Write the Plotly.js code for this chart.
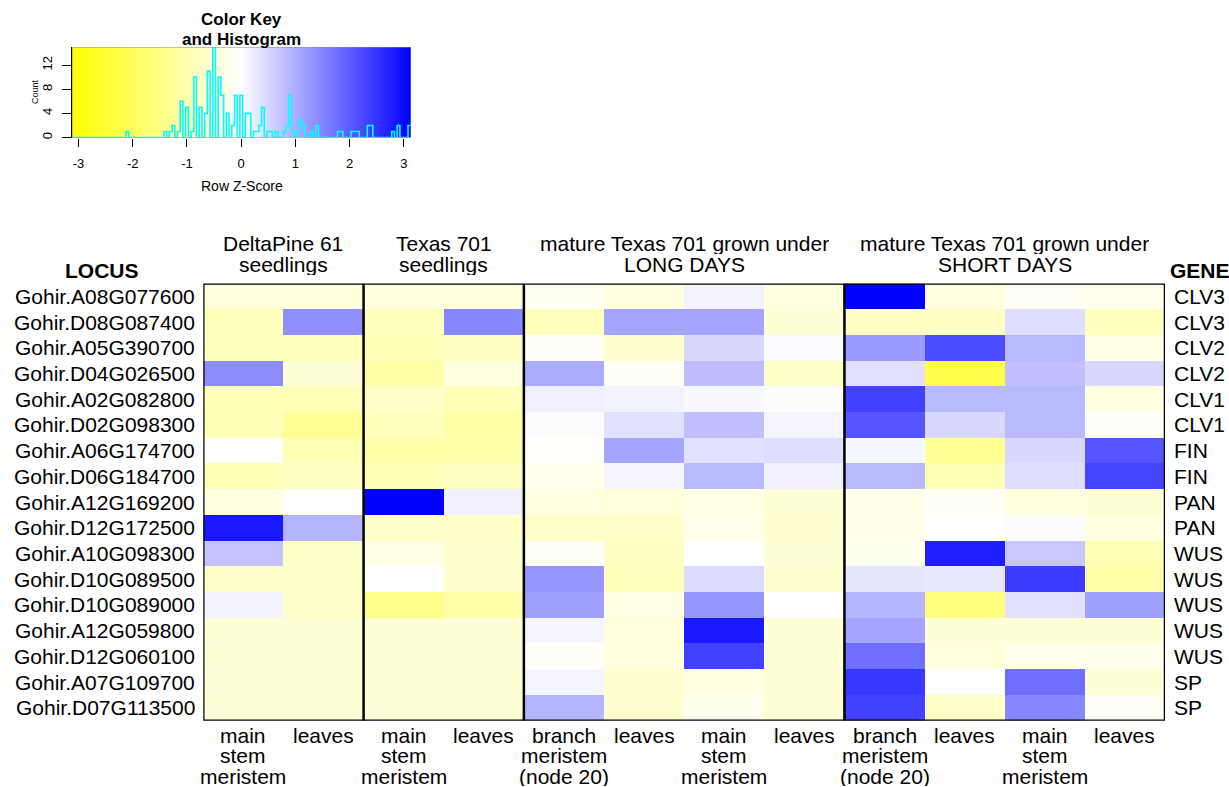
<!DOCTYPE html>
<html><head><meta charset="utf-8">
<script src="https://cdn.plot.ly/plotly-3.0.1.min.js"></script>
<style>html,body{margin:0;padding:0;background:#fff;}#chart{width:1229px;height:787px;}</style>
</head><body><div id="chart"></div>
<script>
// ---------------- data ----------------
const loci = ["Gohir.A08G077600","Gohir.D08G087400","Gohir.A05G390700","Gohir.D04G026500","Gohir.A02G082800","Gohir.D02G098300","Gohir.A06G174700","Gohir.D06G184700","Gohir.A12G169200","Gohir.D12G172500","Gohir.A10G098300","Gohir.D10G089500","Gohir.D10G089000","Gohir.A12G059800","Gohir.D12G060100","Gohir.A07G109700","Gohir.D07G113500"];
const genes = ["CLV3","CLV3","CLV2","CLV2","CLV1","CLV1","FIN","FIN","PAN","PAN","WUS","WUS","WUS","WUS","WUS","SP","SP"];
const sampleLabels = ["main\nstem\nmeristem","leaves","main\nstem\nmeristem","leaves","branch\nmeristem\n(node 20)","leaves","main\nstem\nmeristem","leaves","branch\nmeristem\n(node 20)","leaves","main\nstem\nmeristem","leaves"];
const groupLabels = ["DeltaPine 61\nseedlings","Texas 701\nseedlings","mature Texas 701 grown under\nLONG DAYS","mature Texas 701 grown under\nSHORT DAYS"];
const groupSizes = [2,2,4,4];
// row z-scores (rows = loci, columns = samples)
const zRows = [
 [-0.43,-0.43,-0.40,-0.40,-0.16,-0.38, 0.15,-0.38, 3.12,-0.38,-0.12,-0.25],
 [-0.80, 1.37,-0.80, 1.47,-0.80, 1.10, 1.10,-0.49,-0.73,-0.73, 0.40,-0.80],
 [-0.80,-0.80,-0.85,-0.73,-0.12,-0.60, 0.48, 0.06, 1.22, 2.20, 0.86,-0.30],
 [ 1.41,-0.49,-1.10,-0.37, 1.02,-0.12, 0.80,-0.67, 0.37,-2.20, 0.77, 0.49],
 [-0.85,-0.85,-0.67,-0.85, 0.18, 0.15, 0.09, 0.04, 2.33, 0.86, 0.86,-0.37],
 [-0.85,-1.28,-0.80,-1.10, 0.04, 0.38, 0.77, 0.12, 2.08, 0.49, 0.86,-0.06],
 [ 0.00,-0.92,-1.04,-1.04,-0.04, 1.10, 0.37, 0.40, 0.10,-1.28, 0.49, 2.08],
 [-0.85,-0.73,-0.85,-0.73,-0.25, 0.12, 0.86, 0.18, 0.86,-0.92, 0.40, 2.29],
 [-0.37, 0.00, 3.12, 0.16,-0.37,-0.45,-0.30,-0.49,-0.28,-0.12,-0.43,-0.49],
 [ 2.82, 0.92,-0.67,-0.67,-0.67,-0.67,-0.25,-0.55,-0.28, 0.00, 0.04,-0.37],
 [ 0.73,-0.67,-0.30,-0.61,-0.12,-0.73, 0.00,-0.49,-0.20, 2.75, 0.67,-0.92],
 [-0.67,-0.67, 0.00,-0.61, 1.28,-0.80, 0.43,-0.55, 0.31, 0.28, 2.39,-1.04],
 [ 0.15,-0.67,-1.41,-1.04, 1.16,-0.33, 1.28, 0.00, 0.92,-1.59, 0.37, 1.16],
 [-0.49,-0.49,-0.49,-0.49, 0.12,-0.43, 2.82,-0.49, 1.10,-0.49,-0.52,-0.52],
 [-0.49,-0.49,-0.49,-0.49,-0.08,-0.43, 2.33,-0.49, 1.77,-0.45,-0.25,-0.20],
 [-0.49,-0.49,-0.49,-0.49, 0.12,-0.55,-0.37,-0.49, 2.45, 0.00, 1.77,-0.49],
 [-0.49,-0.49,-0.49,-0.49, 0.92,-0.55,-0.20,-0.49, 2.33,-0.67, 1.47,-0.12]
];
// colour key
const zLimit = 3.12;
const keyTicks = [-3,-2,-1,0,1,2,3];
const countTicks = [0,4,8,12];
const countMax = 15;
// histogram read from the key (bin centres, bin width 0.05) and counts
const histBinWidth = 0.05;
const histBinCenters = [-2.075,-1.425,-1.325,-1.275,-1.225,-1.175,-1.125,-1.075,-1.025,-0.975,-0.925,-0.875,-0.825,-0.775,-0.725,-0.675,-0.625,-0.575,-0.525,-0.475,-0.425,-0.375,-0.325,-0.275,-0.225,-0.175,-0.125,-0.075,-0.025,0.025,0.075,0.125,0.175,0.225,0.275,0.325,0.375,0.425,0.475,0.525,0.625,0.775,0.825,0.875,0.925,0.975,1.025,1.075,1.125,1.175,1.275,1.375,1.425,1.775,1.825,2.025,2.075,2.175,2.325,2.375,2.775,2.875,3.125];
const histCounts =     [1,1,1,1,1,1,2,4,3,2,1,2,8,3,2,4,7,4,14,4,10,4,3,2,2,2,4,3,4,3,4,3,1,1,1,2,2,3,1,1,1,1,2,5,2,1,1,3,1,1,1,1,1,1,1,1,1,1,2,2,1,2,2];

// ---------------- helpers ----------------
const W = 1229, H = 787;
const px = x => x / W, py = y => 1 - y / H;
const FONT = "Liberation Sans, Arial, Helvetica, sans-serif";
const colorscale = [[0,'#FFFF00'],[0.5,'#FFFFFF'],[1,'#0000FF']];
const nRows = loci.length, nCols = sampleLabels.length;
const colIdx = sampleLabels.map((_, i) => i);
const rowIdx = loci.map((_, i) => i);

// histogram step line
const hStart = -3.125, nBins = Math.round(6.25 / histBinWidth);
const binCounts = new Array(nBins).fill(0);
histBinCenters.forEach((c, k) => {
  const idx = Math.min(nBins - 1, Math.max(0, Math.floor((c - hStart) / histBinWidth)));
  binCounts[idx] += histCounts[k];
});
const stepX = [], stepY = [];
for (let i = 0; i < nBins; i++) { stepX.push(hStart + i * histBinWidth); stepY.push(binCounts[i]); }
stepX.push(hStart + nBins * histBinWidth); stepY.push(binCounts[nBins - 1]);

const traces = [
  { type:'heatmap', z: zRows, x: colIdx, y: rowIdx, colorscale, zmin:-zLimit, zmax:zLimit,
    showscale:false, xaxis:'x', yaxis:'y', hoverinfo:'z' },
  { type:'scatter', mode:'lines', x:[-zLimit, zLimit+0.01, zLimit+0.01, -zLimit, -zLimit], y:[0,0,countMax,countMax,0],
    fill:'toself', fillcolor:'rgba(255,255,255,0)', line:{width:0},
    fillgradient:{type:'horizontal', start:-zLimit, stop:zLimit, colorscale},
    xaxis:'x2', yaxis:'y2', hoverinfo:'skip', showlegend:false },
  { type:'scatter', mode:'lines', x: stepX, y: stepY, line:{shape:'hv', color:'#00FFFF', width:1.6},
    xaxis:'x2', yaxis:'y2', hoverinfo:'skip', showlegend:false }
];

const annotations = [];
const ann = (o) => annotations.push(Object.assign({showarrow:false, xanchor:'center', yanchor:'middle',
  font:{family:FONT, size:21, color:'#000'}}, o));

// row labels and gene labels
loci.forEach((l, i) => ann({text:l, xref:'paper', x:px(197), xanchor:'right', yref:'y', y:i}));
genes.forEach((g, i) => ann({text:g, xref:'paper', x:px(1172), xanchor:'left', yref:'y', y:i}));
// column labels (one annotation per line)
sampleLabels.forEach((s, i) => s.split('\n').forEach((line, k) =>
  ann({text:line, xref:'x', x:i, yref:'paper', y:py(734.5 + 20.7*k), height:20})));
// group headers
let cum = 0;
const sepPositions = [];
groupLabels.forEach((g, gi) => {
  const center = cum + groupSizes[gi] / 2 - 0.5;
  g.split('\n').forEach((line, k) =>
    ann({text:line, xref:'x', x:center, yref:'paper', y:py(243 + 21.5*k), height:21}));
  cum += groupSizes[gi];
  if (gi < groupLabels.length - 1) sepPositions.push(cum - 0.5);
});
ann({text:'<b>LOCUS</b>', xref:'paper', x:px(102), yref:'paper', y:py(270)});
ann({text:'<b>GENE</b>', xref:'paper', x:px(1168), xanchor:'left', yref:'paper', y:py(270)});
// key texts
ann({text:'<b>Color Key</b>', xref:'paper', x:px(241.5), yref:'paper', y:py(20), height:19, font:{family:FONT, size:17, color:'#000'}});
ann({text:'<b>and Histogram</b>', xref:'paper', x:px(241.5), yref:'paper', y:py(40), height:19, font:{family:FONT, size:17, color:'#000'}});
ann({text:'Row Z-Score', xref:'paper', x:px(241.5), yref:'paper', y:py(186), font:{family:FONT, size:14, color:'#000'}});
ann({text:'Count', xref:'paper', x:px(35), yref:'paper', y:py(92), textangle:-90, font:{family:FONT, size:9, color:'#000'}});

const shapes = [
  {type:'rect', xref:'x', yref:'y', x0:-0.5, x1:nCols-0.5, y0:-0.5, y1:nRows-0.5, line:{color:'#000', width:2.5}},
  {type:'rect', xref:'x2', yref:'y2', x0:-zLimit, x1:zLimit+0.01, y0:0, y1:countMax, line:{color:'#888', width:1}}
];
sepPositions.forEach(p => shapes.push({type:'line', xref:'x', yref:'y', x0:p, x1:p, y0:-0.5, y1:nRows-0.5, line:{color:'#000', width:2.5}}));

const layout = {
  width:W, height:H, margin:{l:0,r:0,t:0,b:0}, paper_bgcolor:'#fff', plot_bgcolor:'rgba(0,0,0,0)',
  showlegend:false, font:{family:FONT, color:'#000'},
  xaxis:{domain:[px(203.3), px(1165)], range:[-0.5, nCols-0.5], visible:false, fixedrange:true},
  yaxis:{domain:[py(720.7), py(283.5)], range:[nRows-0.5, -0.5], visible:false, fixedrange:true},
  xaxis2:{domain:[px(72), px(411)], anchor:'y2', range:[-zLimit, zLimit+0.01], tickvals:keyTicks, ticktext:keyTicks.map(String),
    ticks:'outside', ticklen:8, tickcolor:'#000', ticklabelstandoff:6, tickfont:{family:FONT, size:13}, showgrid:false, zeroline:false, showline:false},
  yaxis2:{domain:[py(137.5), py(47)], anchor:'x2', range:[0, countMax], tickvals:countTicks, ticktext:countTicks.map(String),
    tickangle:-90, ticks:'outside', ticklen:9, tickcolor:'#000', ticklabelstandoff:5, tickfont:{family:FONT, size:13}, showgrid:false, zeroline:false,
    showline:true, linecolor:'#000', linewidth:1},
  shapes, annotations
};
Plotly.newPlot('chart', traces, layout, {displayModeBar:false, staticPlot:true});
</script></body></html>
